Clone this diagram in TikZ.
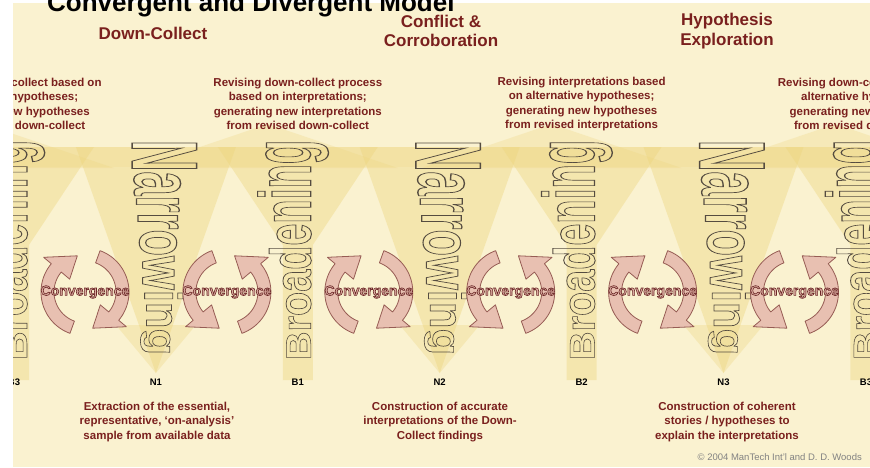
\documentclass[tikz,border=0pt]{standalone}
\usepackage{fontspec}
\setmainfont{Liberation Sans}
\definecolor{cream}{RGB}{250,242,208}
\definecolor{ylw}{RGB}{237,212,125}
\definecolor{maroon}{RGB}{122,32,30}
\definecolor{arrfill}{RGB}{232,192,177}
\definecolor{arrdraw}{RGB}{150,92,84}
\definecolor{outl}{RGB}{85,76,64}
\definecolor{convfill}{RGB}{218,172,160}
\definecolor{copygray}{RGB}{130,130,130}
\newcommand\outlinetext[1]{\special{pdf:literal direct 1 Tr 0.16 w}#1\special{pdf:literal direct 0 Tr}}
\newcommand\convtext{\special{pdf:literal direct 2 Tr 0.6 w 0.42 0.15 0.15 RG}Convergence\special{pdf:literal direct 0 Tr}}
\tikzset{
  wart/.style={inner sep=0pt, outer sep=0pt, font=\fontsize{10}{12}\selectfont\bfseries, text=outl},
  arr/.style={fill=arrfill, draw=arrdraw, line width=0.8pt, line join=round},
  conv/.style={inner sep=0pt, font=\fontsize{14}{16}\selectfont\bfseries, text=convfill},
  lbl/.style={inner sep=0pt, font=\fontsize{9.5}{11}\selectfont\bfseries, text=black},
  topblock/.style={inner sep=0pt, align=center, font=\fontsize{11.5}{14.3}\selectfont\bfseries, text=maroon},
  botblock/.style={inner sep=0pt, align=center, font=\fontsize{11.5}{14.5}\selectfont\bfseries, text=maroon},
  heading/.style={inner sep=0pt, align=center, font=\fontsize{17}{19.5}\selectfont\bfseries, text=maroon},
}
\newcommand\narrowing[1]{%
\foreach \wch/\wst/\wad in {N/0/722,a/722/556,r/1278/389,r/1667/389,o/2056/611,w/2667/778,i/3445/278,n/3723/611,g/4334/611}{%
 \pgfmathsetmacro\ys{140+0.0435*\wst}%
 \pgfmathsetmacro\yc{\ys+0.02175*\wad}%
 \pgfmathsetmacro\sc{(40+0.29*(341-\yc))/10}%
 \pgfmathsetmacro\bx{#1-24+0.09*(\yc-154)}%
 \node[wart, rotate=-90, xscale=4.35, yscale=\sc, anchor=base west] at (\bx,\ys) {\outlinetext{\wch}};
}}
\newcommand\broadening[1]{%
\foreach \wch/\wst/\wad in {B/0/722,r/722/389,o/1111/611,a/1722/556,d/2278/611,e/2889/556,n/3445/611,i/4056/278,n/4334/611,g/4945/611}{%
 \pgfmathsetmacro\ys{360-0.0396*\wst}%
 \pgfmathsetmacro\yc{\ys-0.0198*\wad}%
 \pgfmathsetmacro\sc{(35+0.249*(348-\yc))/10}%
 \node[wart, rotate=90, xscale=3.96, yscale=\sc, anchor=base west] at (#1+13,\ys) {\outlinetext{\wch}};
}}
\newcommand\arcarrow[4]{%
 \filldraw[arr] plot[domain=#2:#3, samples=30] ({#1+44*cos(\x)},{292-44*sin(\x)})
  -- ({#1+54*cos(#3)},{292-54*sin(#3)}) -- ({#1+37*cos(#4)},{292-37*sin(#4)})
  -- ({#1+20*cos(#3)},{292-20*sin(#3)})
  -- plot[domain=#3:#2, samples=30] ({#1+31*cos(\x)},{292-31*sin(\x)}) -- cycle;
}
\begin{document}
\begin{tikzpicture}[x=1pt,y=-1pt]
\useasboundingbox (0,0) rectangle (870,467);
\clip (0,0) rectangle (870,467);
\fill[white] (0,0) rectangle (870,467);
\fill[cream] (13,3) rectangle (870,467);
\begin{scope}
\clip (13,3) rectangle (870,467);
% upper band and roofs
\fill[ylw, opacity=0.2] (13,147) rectangle (870,167);
\foreach \xb in {14,297.8,581.6,865.4}
  \fill[ylw, opacity=0.28] (\xb-30,124) -- (\xb+100,168) -- (\xb-160,168) -- cycle;
% narrowing funnels
\foreach \xn in {155.9,439.7,723.5} {
  \fill[ylw, opacity=0.4] (\xn-80,147) -- (\xn+80,147) -- (\xn,373) -- cycle;
  \fill[ylw, opacity=0.32] (\xn-40,325) -- (\xn+40,325) -- (\xn,373) -- cycle;
}
% broadening funnels
\foreach \xb in {14,297.8,581.6,865.4}
  \fill[ylw, opacity=0.4] (\xb-15,380) -- (\xb-15,245) -- (\xb-80,147) -- (\xb+80,147) -- (\xb+15,245) -- (\xb+15,380) -- cycle;
% warped words
\narrowing{155.9}
\narrowing{439.7}
\narrowing{723.5}
\broadening{14}
\broadening{297.8}
\broadening{581.6}
\broadening{865.4}
% convergence cycles
\foreach \cx in {85,368.8,652.6} {
  \arcarrow{\cx}{70}{-40}{-78}
  \arcarrow{\cx}{250}{140}{102}
}
\foreach \cx in {226.9,510.7,794.5} {
  \arcarrow{\cx}{110}{220}{258}
  \arcarrow{\cx}{-70}{40}{78}
}
\foreach \cx/\nm in {85/c1,226.9/c2,368.8/c3,510.7/c4,652.6/c5,794.5/c6}
  \node[conv] (\nm) at (\cx,292) {\convtext};
% labels
\foreach \x/\t/\nm in {14/B3/l0,155.9/N1/l1,297.8/B1/l2,439.7/N2/l3,581.6/B2/l4,723.5/N3/l5,866/B3/l6}
  \node[lbl] (\nm) at (\x,382) {\t};
% top blocks
\node[topblock] (t0) at (14,104) {Revising down-collect based on\\alternative hypotheses;\\generating new hypotheses\\from revised down-collect};
\node[topblock] (t1) at (297.8,104) {Revising down-collect process\\based on interpretations;\\generating new interpretations\\from revised down-collect};
\node[topblock] (t2) at (581.6,104) {Revising interpretations based\\on alternative hypotheses;\\generating new hypotheses\\from revised interpretations};
\node[topblock] (t3) at (865.4,104) {Revising down-collect based on\\alternative hypotheses;\\generating new hypotheses\\from revised down-collect};
% headings
\node[heading] (h1) at (153,33) {Down-Collect};
\node[heading] (h2) at (441,31) {Conflict \&\\Corroboration};
\node[heading] (h3) at (727,31) {Hypothesis\\Exploration};
% bottom blocks
\node[botblock] (b1) at (157,422) {Extraction of the essential,\\representative, ‘on-analysis’\\sample from available data};
\node[botblock] (b2) at (440,422) {Construction of accurate\\interpretations of the Down-\\Collect findings};
\node[botblock] (b3) at (727,422) {Construction of coherent\\stories / hypotheses to\\explain the interpretations};
\node[inner sep=0pt, anchor=east, font=\fontsize{9.5}{11}\selectfont, text=copygray] (cp) at (862,457) {© 2004 ManTech Int'l and D. D. Woods};
\end{scope}
\node[inner sep=0pt, anchor=base west, font=\fontsize{26}{30}\selectfont\bfseries, text=black] (title) at (47,11) {Convergent and Divergent Model};
\end{tikzpicture}
\end{document}
